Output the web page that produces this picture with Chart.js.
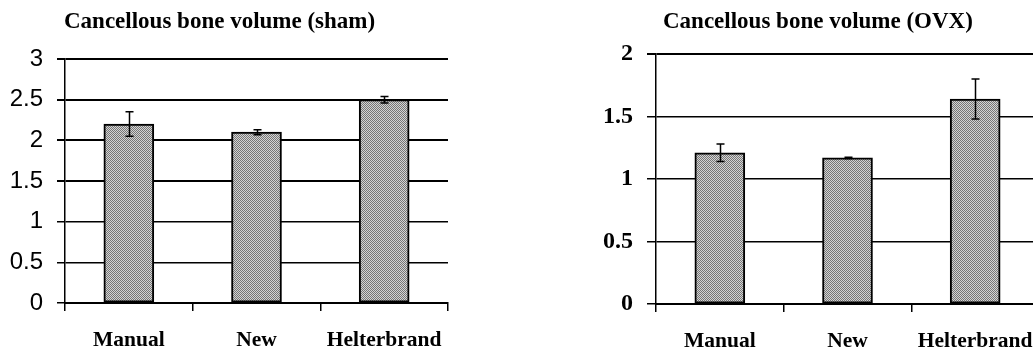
<!DOCTYPE html>
<html>
<head>
<meta charset="utf-8">
<script src="https://cdn.jsdelivr.net/npm/chart.js@4.4.1/dist/chart.umd.min.js"></script>
<style>
  html, body { margin: 0; padding: 0; background: #ffffff; overflow: hidden; width: 1033px; height: 353px; }
  #left { position: absolute; left: 0; top: 0; }
  #right { position: absolute; left: 520px; top: 0; }
</style>
</head>
<body>
<canvas id="left" width="520" height="353"></canvas>
<canvas id="right" width="540" height="353"></canvas>
<script>
// ---- data ----
const categories = ['Manual', 'New', 'Helterbrand'];
const shamTitle = 'Cancellous bone volume (sham)';
const shamValues = [2.20, 2.10, 2.50];
const shamErrors = [0.15, 0.03, 0.04];
const shamTicks = [0, 0.5, 1, 1.5, 2, 2.5, 3];
const ovxTitle = 'Cancellous bone volume (OVX)';
const ovxValues = [1.21, 1.17, 1.64];
const ovxErrors = [0.07, 0.005, 0.16];
const ovxTicks = [0, 0.5, 1, 1.5, 2];

// ---- stippled bar fill ----
function makePattern() {
  const c = document.createElement('canvas');
  c.width = 4; c.height = 4;
  const g = c.getContext('2d');
  const dark = '#767676', light = '#d4d4d4';
  for (let y = 0; y < 4; y++) {
    for (let x = 0; x < 4; x++) {
      g.fillStyle = ((x + y) % 2 === 0) ? dark : light;
      g.fillRect(x, y, 1, 1);
    }
  }
  return document.getElementById('left').getContext('2d').createPattern(c, 'repeat');
}
const pattern = makePattern();

function errorBarPlugin(errors) {
  return {
    id: 'errbars',
    afterDatasetsDraw(chart) {
      const ctx = chart.ctx;
      const xs = chart.scales.x, ys = chart.scales.y;
      const vals = chart.data.datasets[0].data;
      ctx.save();
      ctx.strokeStyle = '#000';
      ctx.lineWidth = 1.5;
      vals.forEach((v, i) => {
        const x = Math.round(xs.getPixelForValue(i)) + 0.5;
        const yt = ys.getPixelForValue(v + errors[i]);
        const yb = ys.getPixelForValue(v - errors[i]);
        ctx.beginPath();
        ctx.moveTo(x, yt); ctx.lineTo(x, yb);
        ctx.moveTo(x - 4, yt); ctx.lineTo(x + 4, yt);
        ctx.moveTo(x - 4, yb); ctx.lineTo(x + 4, yb);
        ctx.stroke();
      });
      ctx.restore();
    }
  };
}

function titlePlugin(text, x, y) {
  return {
    id: 'ttl',
    afterDraw(chart) {
      const ctx = chart.ctx;
      ctx.save();
      ctx.fillStyle = '#000';
      ctx.font = 'bold 23px "Liberation Serif"';
      ctx.textBaseline = 'alphabetic';
      ctx.textAlign = 'left';
      ctx.fillText(text, x, y);
      ctx.restore();
    }
  };
}

function makeChart(id, opts) {
  return new Chart(document.getElementById(id), {
    type: 'bar',
    data: {
      labels: categories,
      datasets: [{
        data: opts.values,
        backgroundColor: pattern,
        borderColor: '#000',
        borderWidth: 2,
        borderSkipped: false,
        barThickness: 50,
        categoryPercentage: 1,
        barPercentage: 0.4
      }]
    },
    options: {
      responsive: false,
      animation: false,
      devicePixelRatio: 1,
      layout: { padding: { top: opts.top, right: opts.right, left: 0, bottom: 0 } },
      plugins: { legend: { display: false }, tooltip: { enabled: false }, title: { display: false } },
      scales: {
        x: {
          grid: { display: true, offset: true, drawOnChartArea: false, drawTicks: true, tickLength: 8, color: '#000', lineWidth: 1.5 },
          border: { display: true, color: '#000', width: 2 },
          ticks: { color: '#000', padding: opts.xPad, font: { family: '"Liberation Serif"', size: 21.5, weight: 'bold' } },
          afterFit(scale) { scale.height = opts.xHeight; }
        },
        y: {
          min: opts.ticks[0],
          max: opts.ticks[opts.ticks.length - 1],
          afterBuildTicks(scale) { scale.ticks = opts.ticks.map(v => ({ value: v })); },
          grid: { color: '#000', lineWidth: opts.gridWidth, drawTicks: true, tickLength: opts.tickLen },
          border: { display: true, color: '#000', width: 1.5 },
          ticks: { color: '#000', padding: 14, font: opts.yFont, callback: (v) => String(v) },
          afterFit(scale) { scale.width = opts.yWidth; }
        }
      }
    },
    plugins: [errorBarPlugin(opts.errors), titlePlugin(opts.title, opts.titleX, 28)]
  });
}

makeChart('left', {
  values: shamValues, errors: shamErrors, ticks: shamTicks, title: shamTitle,
  top: 59, right: 72, xHeight: 50, xPad: 17, yWidth: 65, tickLen: 8, titleX: 64,
  gridWidth: (c) => (c.tick && c.tick.value >= 1.5 ? 2 : 1.5),
  yFont: { family: '"Liberation Sans"', size: 24 }
});

makeChart('right', {
  values: ovxValues, errors: ovxErrors, ticks: ovxTicks, title: ovxTitle,
  top: 54, right: 21, xHeight: 49, xPad: 17, yWidth: 136, tickLen: 9, titleX: 143,
  gridWidth: (c) => (c.tick && c.tick.value === 2 ? 2 : 1.5),
  yFont: { family: '"Liberation Serif"', size: 24, weight: 'bold' }
});
</script>
</body>
</html>
